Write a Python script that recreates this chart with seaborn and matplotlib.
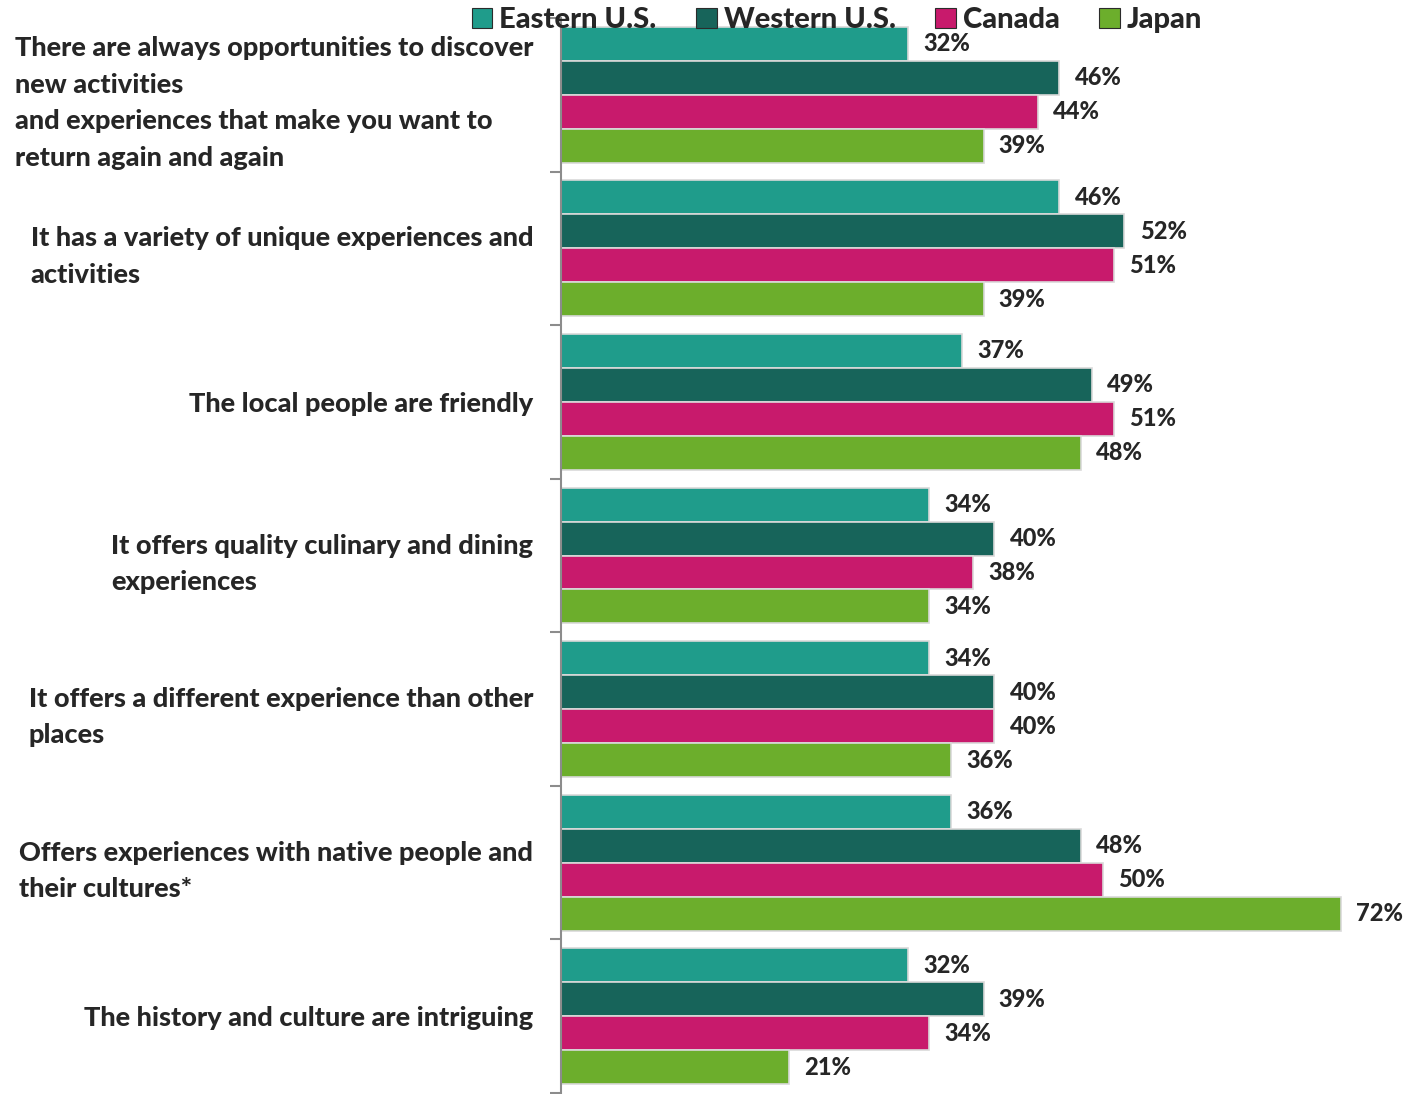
import numpy as np
import pandas as pd
import matplotlib as mpl
import matplotlib.pyplot as plt
import seaborn as sns

# data
statements = [
    "There are always opportunities to discover\nnew activities\nand experiences that make you want to\nreturn again and again",
    "It has a variety of unique experiences and\nactivities",
    "The local people are friendly",
    "It offers quality culinary and dining\nexperiences",
    "It offers a different experience than other\nplaces",
    "Offers experiences with native people and\ntheir cultures*",
    "The history and culture are intriguing",
]
markets = ["Eastern U.S.", "Western U.S.", "Canada", "Japan"]
eastern = [32, 46, 37, 34, 34, 36, 32]
western = [46, 52, 49, 40, 40, 48, 39]
canada = [44, 51, 51, 38, 40, 50, 34]
japan = [39, 39, 48, 34, 36, 72, 21]

colors = {"Eastern U.S.": "#1f9c8b", "Western U.S.": "#17645a",
          "Canada": "#c81a6c", "Japan": "#6cae2c"}

df = pd.DataFrame({"Statement": statements * 4,
                   "Market": np.repeat(markets, len(statements)),
                   "Pct": eastern + western + canada + japan})

sns.set_style("white")
plt.rcParams['font.family'] = ['Lato', 'DejaVu Sans']
plt.rcParams['font.weight'] = 'bold'

fig = plt.figure(figsize=(14.06, 10.94), dpi=100)
ax = fig.add_axes([561/1406, 1/1094, 1 - 561/1406, 1075/1094])

sns.barplot(data=df, y="Statement", x="Pct", hue="Market", palette=colors,
            order=statements, hue_order=markets, orient="h", width=0.885,
            saturation=1, edgecolor="#d9d9d9", linewidth=1.2, ax=ax)

for cont in ax.containers:
    ax.bar_label(cont, labels=[f"{v:.0f}%" for v in cont.datavalues],
                 padding=11, fontsize=17, fontweight="black")

ax.set_xlim(0, 78)
ax.set_ylim(len(statements) - 0.5, -0.5)
ax.set_xlabel("")
ax.set_ylabel("")
ax.set_xticks([])
for s in ["top", "right", "bottom"]:
    ax.spines[s].set_visible(False)
ax.spines["left"].set_color("#8c8c8c")
ax.spines["left"].set_linewidth(1.5)

ax.set_yticks(np.arange(-0.5, len(statements), 1), minor=True)
ax.tick_params(axis="y", which="minor", length=8, width=1.5, color="#8c8c8c", left=True)
ax.tick_params(axis="y", which="major", length=0, pad=20)
for lab in ax.get_yticklabels():
    lab.set_fontsize(19.5)
    lab.set_fontweight("black")
    lab.set_multialignment("left")
    lab.set_linespacing(1.62)

leg = ax.legend(loc="center", bbox_to_anchor=(837/1406, 1 - 20/1094), bbox_transform=fig.transFigure,
                ncol=4, frameon=False, handlelength=0.7, handleheight=0.7,
                handletextpad=0.25, columnspacing=1.35, borderaxespad=0, borderpad=0.1,
                prop={"weight": "black", "size": 21})
for h in leg.legend_handles:
    h.set_edgecolor("#2b2b2b")
    h.set_linewidth(0.8)

fig.savefig("out.png", dpi=100)
